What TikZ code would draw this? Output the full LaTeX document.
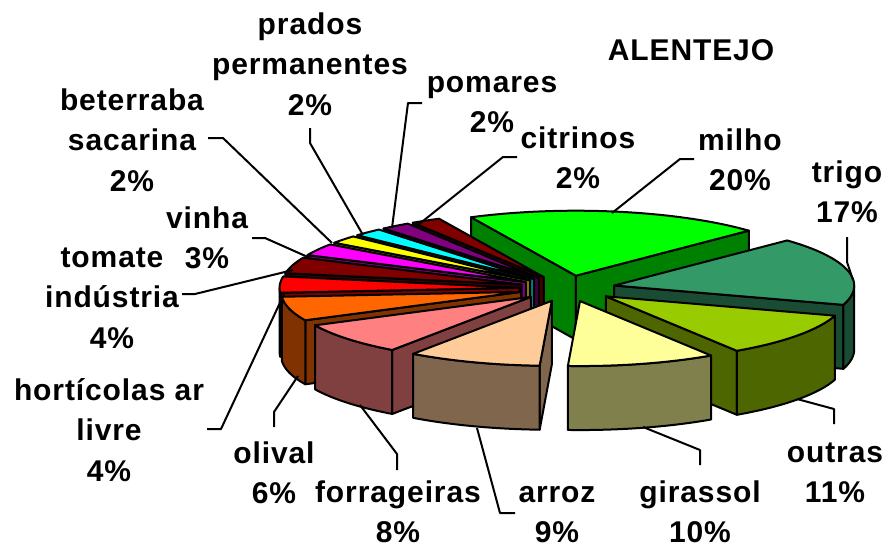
\documentclass[tikz,border=0pt]{standalone}
\usepackage{fontspec}
\setmainfont{Liberation Sans}
\newfontfamily\labfont[LetterSpace=3.0]{Liberation Sans}
\definecolor{milhoT}{HTML}{00FF00}\definecolor{milhoS}{HTML}{008000}
\definecolor{trigoT}{HTML}{339966}\definecolor{trigoS}{HTML}{1A4C33}
\definecolor{outrasT}{HTML}{99CC00}\definecolor{outrasS}{HTML}{4D6600}
\definecolor{girT}{HTML}{FFFF99}\definecolor{girS}{HTML}{80804D}
\definecolor{arrozT}{HTML}{FFCC99}\definecolor{arrozS}{HTML}{80664D}
\definecolor{forrT}{HTML}{FF8080}\definecolor{forrS}{HTML}{804040}
\definecolor{olivT}{HTML}{FF6600}\definecolor{olivS}{HTML}{803300}
\definecolor{hortT}{HTML}{FF0000}\definecolor{hortS}{HTML}{800000}
\definecolor{tomT}{HTML}{800000}\definecolor{tomS}{HTML}{400000}
\definecolor{vinT}{HTML}{FF00FF}\definecolor{vinS}{HTML}{800080}
\definecolor{betT}{HTML}{FFFF00}\definecolor{betS}{HTML}{808000}
\definecolor{praT}{HTML}{00FFFF}\definecolor{praS}{HTML}{008080}
\definecolor{pomT}{HTML}{800080}\definecolor{pomS}{HTML}{400040}
\definecolor{citT}{HTML}{800000}\definecolor{citS}{HTML}{400000}
\newcommand{\pieslice}[5]{%
  \pgfmathsetmacro{\mm}{(#2+#3)/2}%
  \pgfmathsetmacro{\ax}{\cx+\ex*cos(\mm)}%
  \pgfmathsetmacro{\ay}{\cy-\ey*sin(\mm)}%
  \coordinate (#1) at (\ax,\ay);%
  \pgfmathsetmacro{\lo}{max(#3,-180)}%
  \pgfmathsetmacro{\hi}{min(#2,0)}%
  \pgfmathtruncatemacro{\vis}{\hi>\lo ? 1 : 0}%
  \pgfmathtruncatemacro{\fa}{cos(#2)<0 ? 1 : 0}%
  \pgfmathtruncatemacro{\fb}{cos(#3)>0 ? 1 : 0}%
  \ifnum\fa=1
    \path[edge, fill=#5] (#1) -- ({\ax+\rx*cos(#2)},{\ay-\ry*sin(#2)}) -- ({\ax+\rx*cos(#2)},{\ay-\ry*sin(#2)+\hh}) -- (\ax,{\ay+\hh}) -- cycle;
  \fi
  \ifnum\fb=1
    \path[edge, fill=#5] (#1) -- ({\ax+\rx*cos(#3)},{\ay-\ry*sin(#3)}) -- ({\ax+\rx*cos(#3)},{\ay-\ry*sin(#3)+\hh}) -- (\ax,{\ay+\hh}) -- cycle;
  \fi
  \ifnum\vis=1
    \path[edge, fill=#5] plot[variable=\t, domain=\lo:\hi, samples=30] ({\ax+\rx*cos(\t)},{\ay-\ry*sin(\t)}) -- plot[variable=\t, domain=\lo:\hi, samples=30] ({\ax+\rx*cos(\lo+\hi-\t)},{\ay-\ry*sin(\lo+\hi-\t)+\hh}) -- cycle;
  \fi
  \path[edge, fill=#4] (#1) -- plot[variable=\t, domain=#3:#2, samples=40] ({\ax+\rx*cos(\t)},{\ay-\ry*sin(\t)}) -- cycle;
}
\begin{document}
\begin{tikzpicture}[x=1pt,y=-1pt, line join=round,
  edge/.style={draw=black, line width=2pt},
  lbl/.style={font=\labfont\bfseries\fontsize{30}{40.5}\selectfont, align=center, inner sep=0pt, anchor=north},
  lead/.style={draw=black, line width=2pt}]
\useasboundingbox (0,0) rectangle (887,549);
\def\cx{567.5}\def\cy{288.5}\def\rx{240}\def\ry{65}\def\ex{48}\def\ey{13}\def\hh{64}
\pieslice{milho}{115.9}{43.9}{milhoT}{milhoS}
\pieslice{citrinos}{-236.9}{-244.1}{citT}{citS}
\pieslice{pomares}{-229.7}{-236.9}{pomT}{pomS}
\pieslice{prados}{-222.5}{-229.7}{praT}{praS}
\pieslice{beterraba}{-215.3}{-222.5}{betT}{betS}
\pieslice{vinha}{-204.5}{-215.3}{vinT}{vinS}
\pieslice{tomate}{-190.1}{-204.5}{tomT}{tomS}
\pieslice{trigo}{43.9}{-17.3}{trigoT}{trigoS}
\pieslice{hort}{-175.7}{-190.1}{hortT}{hortS}
\pieslice{olival}{-154.1}{-175.7}{olivT}{olivS}
\pieslice{outras}{-17.3}{-56.9}{outrasT}{outrasS}
\pieslice{forr}{-125.3}{-154.1}{forrT}{forrS}
\pieslice{arroz}{-92.9}{-125.3}{arrozT}{arrozS}
\pieslice{girassol}{-56.9}{-92.9}{girT}{girS}

% labels
\node[lbl] (lalentejo) at (691,34) {\rule{0pt}{26pt}ALENTEJO};
\node[lbl] (lprados) at (310,8) {\rule{0pt}{26pt}prados\\permanentes\\2\%};
\node[lbl] (lbeterraba) at (132,84) {\rule{0pt}{26pt}beterraba\\sacarina\\2\%};
\node[lbl] (lvinha) at (207,202) {\rule{0pt}{26pt}vinha\\3\%};
\node[lbl] (ltomate) at (112,241) {\rule{0pt}{26pt}tomate\\indústria\\4\%};
\node[lbl] (lhort) at (109,374) {\rule{0pt}{26pt}hortícolas ar\\livre\\4\%};
\node[lbl] (lolival) at (274,437) {\rule{0pt}{26pt}olival\\6\%};
\node[lbl] (lforr) at (398,476) {\rule{0pt}{26pt}forrageiras\\8\%};
\node[lbl] (larroz) at (557,476) {\rule{0pt}{26pt}arroz\\9\%};
\node[lbl] (lgirassol) at (700,476) {\rule{0pt}{26pt}girassol\\10\%};
\node[lbl] (loutras) at (835,436) {\rule{0pt}{26pt}outras\\11\%};
\node[lbl] (ltrigo) at (847,156) {\rule{0pt}{26pt}trigo\\17\%};
\node[lbl] (lmilho) at (740,124) {\rule{0pt}{26pt}milho\\20\%};
\node[lbl] (lcitrinos) at (578,122) {\rule{0pt}{26pt}citrinos\\2\%};
\node[lbl] (lpomares) at (492,66) {\rule{0pt}{26pt}pomares\\2\%};

% leader lines
\coordinate (pr1) at (310,128); \coordinate (pr2) at (310,143); \coordinate (pr3) at (363,235);
\coordinate (be1) at (208,138); \coordinate (be2) at (223,138); \coordinate (be3) at (332,243);
\coordinate (vi1) at (252,238); \coordinate (vi2) at (265,238); \coordinate (vi3) at (310,258);
\coordinate (to1) at (182,294); \coordinate (to2) at (195,294); \coordinate (to3) at (293,270);
\coordinate (ho1) at (207,429); \coordinate (ho2) at (221,429); \coordinate (ho3) at (285,292);
\coordinate (ol1) at (274,427); \coordinate (ol2) at (274,412); \coordinate (ol3) at (298,376);
\coordinate (fo1) at (397,470); \coordinate (fo2) at (397,454); \coordinate (fo3) at (360,405);
\coordinate (ar1) at (515,513); \coordinate (ar2) at (500,513); \coordinate (ar3) at (477,428);
\coordinate (gi1) at (700,465); \coordinate (gi2) at (700,450); \coordinate (gi3) at (643,427);
\coordinate (ou1) at (834,424); \coordinate (ou2) at (834,409); \coordinate (ou3) at (797,399);
\coordinate (tr1) at (847,237); \coordinate (tr2) at (847,262); \coordinate (tr3) at (853,280);
\coordinate (mi1) at (694,159); \coordinate (mi2) at (680,159); \coordinate (mi3) at (612,213);
\coordinate (ci1) at (517,157); \coordinate (ci2) at (503,157); \coordinate (ci3) at (418,225);
\coordinate (po1) at (422,103); \coordinate (po2) at (408,103); \coordinate (po3) at (392,228);
\foreach \p in {pr,be,vi,to,ho,ol,fo,ar,gi,ou,tr,mi,ci,po}
  \draw[lead] (\p1) -- (\p2) -- (\p3);
\end{tikzpicture}
\end{document}
